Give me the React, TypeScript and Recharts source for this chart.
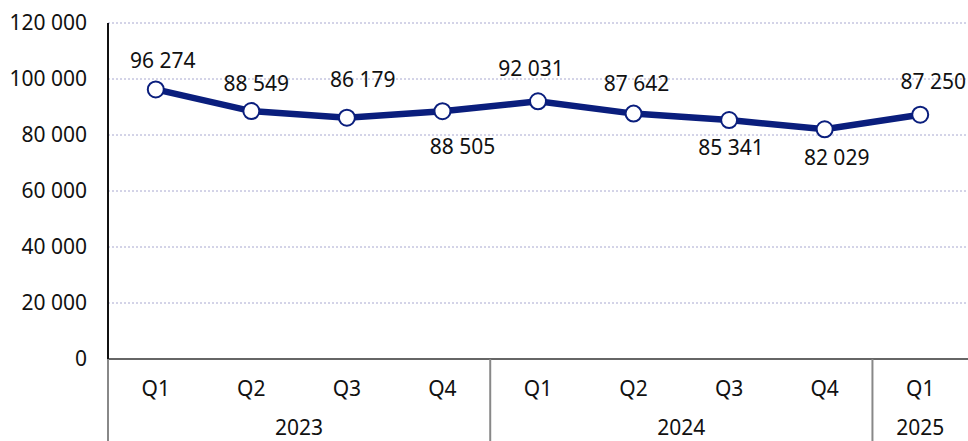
import React from "react";
import {
	LineChart,
	Line,
	XAxis,
	YAxis,
	CartesianGrid,
	LabelList,
} from "recharts";

const quarters = ["Q1", "Q2", "Q3", "Q4", "Q1", "Q2", "Q3", "Q4", "Q1"];
const years = ["2023", "2023", "2023", "2023", "2024", "2024", "2024", "2024", "2025"];
const values = [96274, 88549, 86179, 88505, 92031, 87642, 85341, 82029, 87250];
const yTicks = [0, 20000, 40000, 60000, 80000, 100000, 120000];

// label nudges (dx, dy to text baseline), as placed in the original
const labelOffsets = [
	[7, -21],
	[5, -20],
	[16, -31],
	[20, 43],
	[-7, -25],
	[3, -23],
	[2, 35],
	[12, 36],
	[13, -26],
];

const data = values.map((v, i) => ({
	key: `${years[i]} ${quarters[i]}`,
	value: v,
}));

const FONT = "'Noto Sans', sans-serif";
const FS = 21;
const NAVY = "#0a1e7d";
const CHART_W = 968;
const CHART_H = 441;
const Y_AXIS_W = 108;
const BAND = (CHART_W - Y_AXIS_W) / values.length;

const fmt = (v: number) =>
	String(v).replace(/\B(?=(\d{3})+(?!\d))/g, " ");

const XTick = (props: any) => {
	const { x, y, index } = props;
	const i = index ?? props.payload?.index ?? 0;
	const isGroupStart = i === 0 || years[i] !== years[i - 1];
	let groupSize = 0;
	if (isGroupStart) {
		while (i + groupSize < years.length && years[i + groupSize] === years[i]) groupSize++;
	}
	return (
		<g>
			<text
				x={x}
				y={y + 37}
				textAnchor="middle"
				fontFamily={FONT}
				fontSize={FS}
				fill="#111"
			>
				{quarters[i]}
			</text>
			{isGroupStart && (
				<>
					<line
						x1={x - BAND / 2}
						x2={x - BAND / 2}
						y1={y}
						y2={CHART_H}
						stroke="#888"
						strokeWidth={2}
					/>
					<text
						x={x + ((groupSize - 1) / 2) * BAND}
						y={y + 76}
						textAnchor="middle"
						fontFamily={FONT}
						fontSize={FS}
						fill="#111"
					>
						{years[i]}
					</text>
				</>
			)}
		</g>
	);
};

const PointLabel = (props: any) => {
	const { x, y, value, index } = props;
	const [dx, dy] = labelOffsets[index] || [0, -20];
	return (
		<text
			x={x + dx}
			y={y + dy}
			textAnchor="middle"
			fontFamily={FONT}
			fontSize={FS}
			fill="#111"
		>
			{fmt(value)}
		</text>
	);
};

export default function App() {
	return (
		<div
			style={{
				position: "absolute",
				left: 0,
				top: 0,
				width: CHART_W,
				height: CHART_H,
				background: "#fff",
			}}
		>
			<LineChart
				width={CHART_W}
				height={CHART_H}
				data={data}
				margin={{ top: 23, right: 0, bottom: 0, left: 0 }}
			>
				<CartesianGrid
					vertical={false}
					stroke="#a8a8d0"
					strokeDasharray="2 2"
				/>
				<XAxis
					dataKey="key"
					scale="band"
					height={82}
					interval={0}
					tickLine={false}
					tickSize={0}
					tickMargin={0}
					axisLine={{ stroke: "#666", strokeWidth: 2 }}
					tick={<XTick />}
				/>
				<YAxis
					width={Y_AXIS_W}
					domain={[0, 120000]}
					ticks={yTicks}
					tickFormatter={fmt}
					tickLine={false}
					tickSize={0}
					tickMargin={21}
					axisLine={{ stroke: "#111", strokeWidth: 2 }}
					tick={{ fontFamily: FONT, fontSize: FS, fill: "#111" }}
				/>
				<Line
					type="linear"
					dataKey="value"
					stroke={NAVY}
					strokeWidth={6.5}
					dot={{ r: 8, fill: "#fff", stroke: NAVY, strokeWidth: 2 }}
					isAnimationActive={false}
				>
					<LabelList dataKey="value" content={<PointLabel />} />
				</Line>
			</LineChart>
		</div>
	);
}
